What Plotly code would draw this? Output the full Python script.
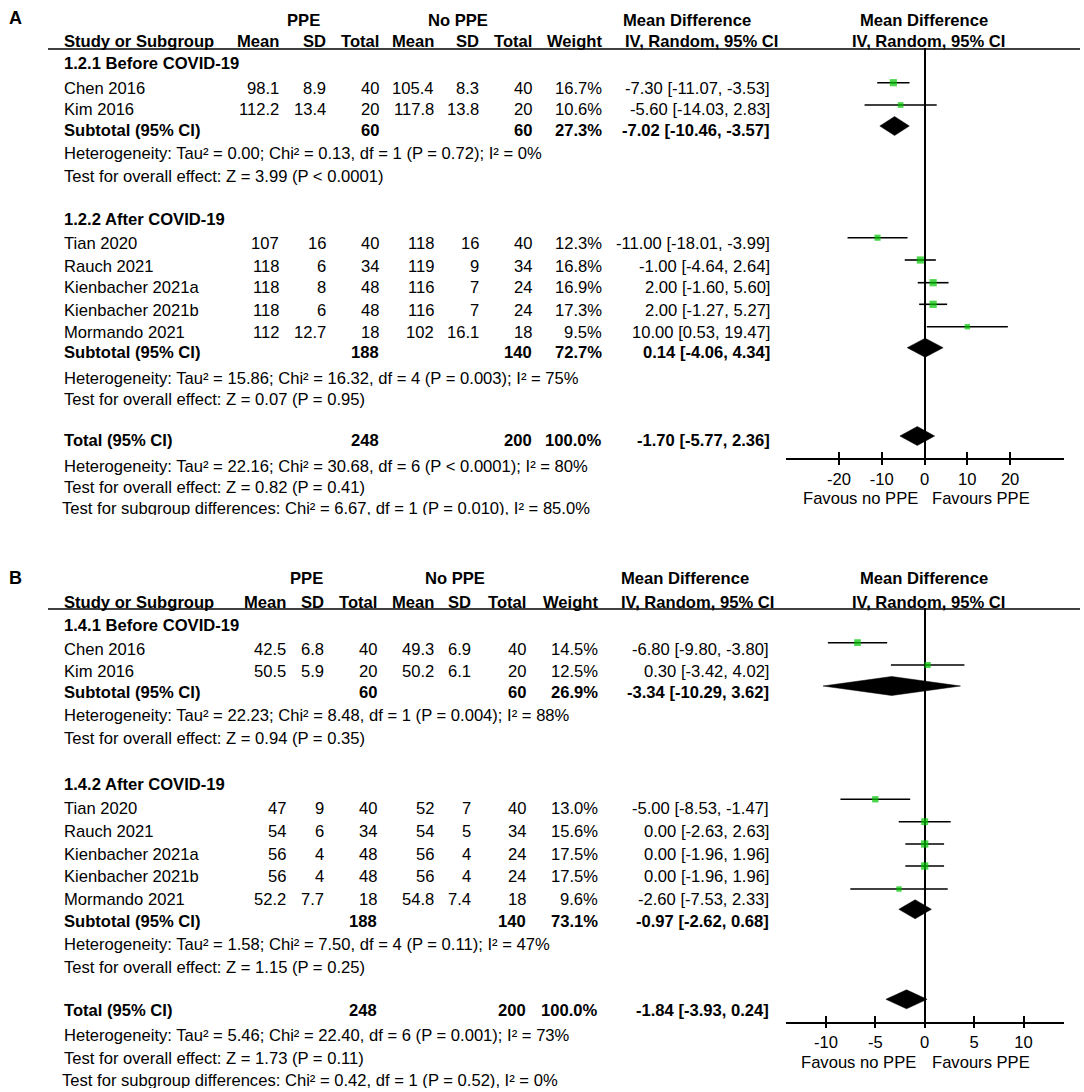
import math
import plotly.graph_objects as go

W, H = 1084, 1092
FONT = "Liberation Sans, Arial, sans-serif"
GREEN = "#00c400"

# ---------------- DATA ----------------
studies = ["Chen 2016", "Kim 2016", "Tian 2020", "Rauch 2021",
           "Kienbacher 2021a", "Kienbacher 2021b", "Mormando 2021"]
groups_A = ["1.2.1 Before COVID-19", "1.2.2 After COVID-19"]
groups_B = ["1.4.1 Before COVID-19", "1.4.2 After COVID-19"]

# Panel A
A_ppe_mean = [98.1, 112.2, 107, 118, 118, 118, 112]
A_ppe_sd = [8.9, 13.4, 16, 6, 8, 6, 12.7]
A_ppe_n = [40, 20, 40, 34, 48, 48, 18]
A_nop_mean = [105.4, 117.8, 118, 119, 116, 116, 102]
A_nop_sd = [8.3, 13.8, 16, 9, 7, 7, 16.1]
A_nop_n = [40, 20, 40, 34, 24, 24, 18]
A_weight = [16.7, 10.6, 12.3, 16.8, 16.9, 17.3, 9.5]
A_md = [-7.30, -5.60, -11.00, -1.00, 2.00, 2.00, 10.00]
A_lo = [-11.07, -14.03, -18.01, -4.64, -1.60, -1.27, 0.53]
A_hi = [-3.53, 2.83, -3.99, 2.64, 5.60, 5.27, 19.47]
# subtotal 1, subtotal 2, total
A_sum_ppe_n = [60, 188, 248]
A_sum_nop_n = [60, 140, 200]
A_sum_weight = [27.3, 72.7, 100.0]
A_sum_md = [-7.02, 0.14, -1.70]
A_sum_lo = [-10.46, -4.06, -5.77]
A_sum_hi = [-3.57, 4.34, 2.36]
A_het = ["Heterogeneity: Tau² = 0.00; Chi² = 0.13, df = 1 (P = 0.72); I² = 0%",
         "Heterogeneity: Tau² = 15.86; Chi² = 16.32, df = 4 (P = 0.003); I² = 75%",
         "Heterogeneity: Tau² = 22.16; Chi² = 30.68, df = 6 (P < 0.0001); I² = 80%"]
A_test = ["Test for overall effect: Z = 3.99 (P < 0.0001)",
          "Test for overall effect: Z = 0.07 (P = 0.95)",
          "Test for overall effect: Z = 0.82 (P = 0.41)"]
A_subgroup = "Test for subgroup differences: Chi² = 6.67, df = 1 (P = 0.010), I² = 85.0%"
A_ticks = [-20, -10, 0, 10, 20]

# Panel B
B_ppe_mean = [42.5, 50.5, 47, 54, 56, 56, 52.2]
B_ppe_sd = [6.8, 5.9, 9, 6, 4, 4, 7.7]
B_ppe_n = [40, 20, 40, 34, 48, 48, 18]
B_nop_mean = [49.3, 50.2, 52, 54, 56, 56, 54.8]
B_nop_sd = [6.9, 6.1, 7, 5, 4, 4, 7.4]
B_nop_n = [40, 20, 40, 34, 24, 24, 18]
B_weight = [14.5, 12.5, 13.0, 15.6, 17.5, 17.5, 9.6]
B_md = [-6.80, 0.30, -5.00, 0.00, 0.00, 0.00, -2.60]
B_lo = [-9.80, -3.42, -8.53, -2.63, -1.96, -1.96, -7.53]
B_hi = [-3.80, 4.02, -1.47, 2.63, 1.96, 1.96, 2.33]
B_sum_ppe_n = [60, 188, 248]
B_sum_nop_n = [60, 140, 200]
B_sum_weight = [26.9, 73.1, 100.0]
B_sum_md = [-3.34, -0.97, -1.84]
B_sum_lo = [-10.29, -2.62, -3.93]
B_sum_hi = [3.62, 0.68, 0.24]
B_het = ["Heterogeneity: Tau² = 22.23; Chi² = 8.48, df = 1 (P = 0.004); I² = 88%",
         "Heterogeneity: Tau² = 1.58; Chi² = 7.50, df = 4 (P = 0.11); I² = 47%",
         "Heterogeneity: Tau² = 5.46; Chi² = 22.40, df = 6 (P = 0.001); I² = 73%"]
B_test = ["Test for overall effect: Z = 0.94 (P = 0.35)",
          "Test for overall effect: Z = 1.15 (P = 0.25)",
          "Test for overall effect: Z = 1.73 (P = 0.11)"]
B_subgroup = "Test for subgroup differences: Chi² = 0.42, df = 1 (P = 0.52), I² = 0%"
B_ticks = [-10, -5, 0, 5, 10]

# ---------------- LAYOUT (pixel positions) ----------------
LAYOUT = {
    "A": dict(
        label_y=18, hdr1=20, hdr2=42, rule=49,
        grp=[63.5, 219.5], rows=[88, 110, 243.5, 266, 288, 310, 332.5],
        sub=[130, 352.5], het=[154, 378, 466.5], test=[176.5, 399.5, 487.5],
        total=440.5, subgroup=510, clip=515,
        cols=dict(pm=280, ps=327, pn=380, nm=435, ns=480, nn=533, w=603, ci=771, iv=624),
        hc=dict(ppe=303, nop=458, md=687, rmd=924, riv=928),
        f_rows=[82.7, 105, 237.7, 260, 282.7, 304.3, 326.7], f_sum=[126, 347.7, 436],
        f_top=48, f_axis=458, xrange=[-32.4, 32.6], fav_y=499,
    ),
    "B": dict(
        label_y=578, hdr1=578, hdr2=602, rule=609,
        grp=[625, 784], rows=[649, 671.5, 808, 831, 854, 876.5, 899],
        sub=[692.5, 921], het=[715, 944, 1035], test=[738, 967, 1058],
        total=1010.5, subgroup=1081.5, clip=1088,
        cols=dict(pm=286.5, ps=325, pn=378, nm=435, ns=471.5, nn=527, w=598.5, ci=770, iv=620),
        hc=dict(ppe=306, nop=455, md=685, rmd=924, riv=928),
        f_rows=[642.7, 665, 799.3, 821.7, 844, 866, 889], f_sum=[686, 909.3, 999.3],
        f_top=607.7, f_axis=1021.7, xrange=[-14.04, 14.1], fav_y=1062,
    ),
}
F_LEFT, F_RIGHT = 786, 1064
FS = 16.6
LX = 63

annotations = []
shapes = []


def txt(x, y, s, anchor="left", bold=False, size=FS):
    annotations.append(dict(
        x=x / W, y=1 - y / H, xref="paper", yref="paper",
        text=f"<b>{s}</b>" if bold else s, xanchor=anchor, yanchor="middle",
        showarrow=False, borderpad=0,
        font=dict(family=FONT, size=size, color="black")))


def fmt(v):
    return f"{v:g}"


def ci(m, l, h):
    return f"{m:.2f} [{l:.2f}, {h:.2f}]"


fig = go.Figure()

panels = [
    ("A", groups_A, A_ppe_mean, A_ppe_sd, A_ppe_n, A_nop_mean, A_nop_sd, A_nop_n,
     A_weight, A_md, A_lo, A_hi, A_sum_ppe_n, A_sum_nop_n, A_sum_weight,
     A_sum_md, A_sum_lo, A_sum_hi, A_het, A_test, A_subgroup, A_ticks),
    ("B", groups_B, B_ppe_mean, B_ppe_sd, B_ppe_n, B_nop_mean, B_nop_sd, B_nop_n,
     B_weight, B_md, B_lo, B_hi, B_sum_ppe_n, B_sum_nop_n, B_sum_weight,
     B_sum_md, B_sum_lo, B_sum_hi, B_het, B_test, B_subgroup, B_ticks),
]

layout_axes = {}

for pi, (name, groups, pm, ps, pn, nm, ns, nn, wt, md, lo, hi,
         spn, snn, sw, smd, slo, shi, het, test, subgroup, ticks) in enumerate(panels):
    L = LAYOUT[name]
    c = L["cols"]
    hc = L["hc"]
    # panel label
    txt(8, L["label_y"], name, bold=True, size=18)
    # headers
    txt(hc["ppe"], L["hdr1"], "PPE", anchor="center", bold=True)
    txt(hc["nop"], L["hdr1"], "No PPE", anchor="center", bold=True)
    txt(hc["md"], L["hdr1"], "Mean Difference", anchor="center", bold=True)
    txt(hc["rmd"], L["hdr1"], "Mean Difference", anchor="center", bold=True)
    txt(LX, L["hdr2"], "Study or Subgroup", bold=True)
    for key, lab in [("pm", "Mean"), ("ps", "SD"), ("pn", "Total"), ("nm", "Mean"),
                     ("ns", "SD"), ("nn", "Total"), ("w", "Weight")]:
        txt(c[key], L["hdr2"], lab, anchor="right", bold=True)
    txt(c["iv"], L["hdr2"], "IV, Random, 95% CI", bold=True)
    txt(hc["riv"], L["hdr2"], "IV, Random, 95% CI", anchor="center", bold=True)
    shapes.append(dict(type="line", xref="paper", yref="paper",
                       x0=48 / W, x1=1080 / W, y0=1 - L["rule"] / H, y1=1 - L["rule"] / H,
                       line=dict(color="black", width=1.5)))
    # group headers
    for gi, g in enumerate(groups):
        txt(LX, L["grp"][gi], g, bold=True)
    # study rows
    for i, s in enumerate(studies):
        y = L["rows"][i]
        txt(LX, y, s)
        txt(c["pm"], y, fmt(pm[i]), anchor="right")
        txt(c["ps"], y, fmt(ps[i]), anchor="right")
        txt(c["pn"], y, fmt(pn[i]), anchor="right")
        txt(c["nm"], y, fmt(nm[i]), anchor="right")
        txt(c["ns"], y, fmt(ns[i]), anchor="right")
        txt(c["nn"], y, fmt(nn[i]), anchor="right")
        txt(c["w"], y, f"{wt[i]:.1f}%", anchor="right")
        txt(c["ci"], y, ci(md[i], lo[i], hi[i]), anchor="right")
    # subtotal / total rows
    sum_y = L["sub"] + [L["total"]]
    sum_lab = ["Subtotal (95% CI)", "Subtotal (95% CI)", "Total (95% CI)"]
    for k in range(3):
        y = sum_y[k]
        txt(LX, y, sum_lab[k], bold=True)
        txt(c["pn"], y, fmt(spn[k]), anchor="right", bold=True)
        txt(c["nn"], y, fmt(snn[k]), anchor="right", bold=True)
        txt(c["w"], y, f"{sw[k]:.1f}%", anchor="right", bold=True)
        txt(c["ci"], y, ci(smd[k], slo[k], shi[k]), anchor="right", bold=True)
        txt(LX, L["het"][k], het[k])
        txt(LX, L["test"][k], test[k])

    # --- forest plot ---
    ax = "" if pi == 0 else "2"
    xa, ya = "x" + ax, "y" + ax
    fig.add_trace(go.Scatter(
        x=md, y=L["f_rows"], mode="markers", xaxis=xa, yaxis=ya, showlegend=False,
        marker=dict(symbol="square", color=GREEN, size=[1.75 * math.sqrt(w) for w in wt],
                    line=dict(width=0)),
        error_x=dict(type="data", symmetric=False,
                     array=[h - m for h, m in zip(hi, md)],
                     arrayminus=[m - l for m, l in zip(md, lo)],
                     width=0, thickness=1.6, color="black"),
        hoverinfo="skip"))
    for k in range(3):
        yc = L["f_sum"][k]
        hh = 9.5
        fig.add_trace(go.Scatter(
            x=[slo[k], smd[k], shi[k], smd[k], slo[k]],
            y=[yc, yc - hh, yc, yc + hh, yc],
            mode="lines", fill="toself", fillcolor="black",
            line=dict(color="black", width=0.5), xaxis=xa, yaxis=ya,
            showlegend=False, hoverinfo="skip"))
    xdom = [F_LEFT / W, F_RIGHT / W]
    ydom = [1 - L["f_axis"] / H, 1 - L["f_top"] / H]
    layout_axes["xaxis" + ax] = dict(
        domain=xdom, anchor=ya, range=L["xrange"], tickvals=ticks,
        ticktext=[str(t) for t in ticks], ticks="outside", ticklen=5, tickwidth=1.5,
        tickcolor="black", showline=True, linecolor="black", linewidth=1.5,
        zeroline=True, zerolinecolor="black", zerolinewidth=1.5, showgrid=False,
        tickfont=dict(family=FONT, size=FS, color="black"), fixedrange=True)
    layout_axes["yaxis" + ax] = dict(
        domain=ydom, anchor=xa, range=[L["f_axis"], L["f_top"]], visible=False,
        showgrid=False, zeroline=False, fixedrange=True)
    # inside ticks (ticks cross the axis line)
    ov = str(5 + pi)
    fig.add_trace(go.Scatter(x=[None], y=[None], xaxis="x" + ov, yaxis=ya,
                             showlegend=False, hoverinfo="skip"))
    layout_axes["xaxis" + ov] = dict(
        overlaying=xa, anchor=ya, range=L["xrange"], tickvals=ticks, ticks="inside",
        ticklen=6, tickwidth=1.5, tickcolor="black", showticklabels=False,
        showline=False, zeroline=False, showgrid=False, fixedrange=True)
    # favours labels
    txt(860 if name == "A" else 858, L["fav_y"], "Favous no PPE", anchor="center")
    txt(981, L["fav_y"], "Favours PPE", anchor="center")

    # subgroup differences line (clipped at the bottom, as in the source)
    cx = str(3 + pi)
    top_clip = L["subgroup"] - 14
    fig.add_trace(go.Scatter(
        x=[LX - 1], y=[L["subgroup"]], mode="text", text=[subgroup],
        textposition="middle right", cliponaxis=True,
        textfont=dict(family=FONT, size=FS, color="black"),
        xaxis="x" + cx, yaxis="y" + cx, showlegend=False, hoverinfo="skip"))
    layout_axes["xaxis" + cx] = dict(domain=[0, 780 / W], range=[0, 780], anchor="y" + cx,
                                     visible=False, fixedrange=True)
    layout_axes["yaxis" + cx] = dict(domain=[1 - L["clip"] / H, 1 - top_clip / H],
                                     range=[L["clip"], top_clip], anchor="x" + cx,
                                     visible=False, fixedrange=True)

fig.update_layout(
    width=W, height=H, margin=dict(l=0, r=0, t=0, b=0),
    paper_bgcolor="white", plot_bgcolor="rgba(0,0,0,0)",
    annotations=annotations, shapes=shapes, showlegend=False,
    font=dict(family=FONT, size=FS, color="black"),
    **layout_axes)

fig.write_html("out.html", config={"displayModeBar": False},
               post_script="document.body.style.margin='0';")
